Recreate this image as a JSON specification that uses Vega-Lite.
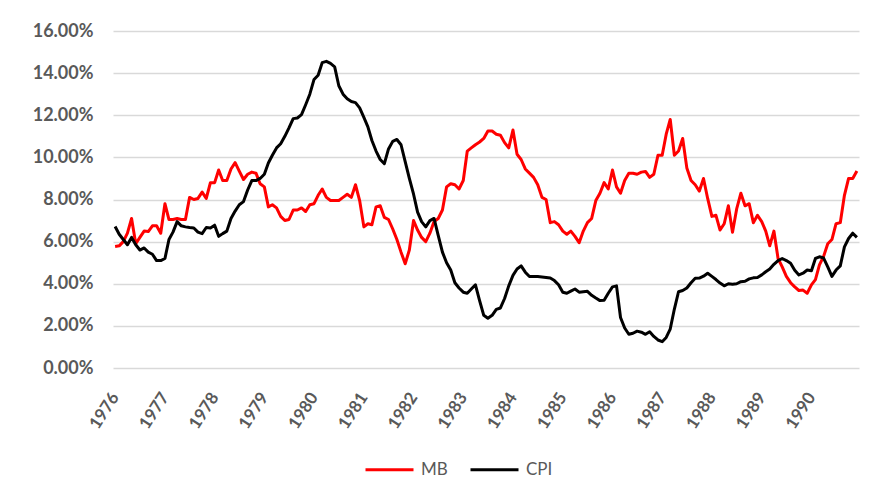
{
  "$schema": "https://vega.github.io/schema/vega-lite/v6.json",
  "width": 746,
  "height": 337,
  "autosize": {"type": "none"},
  "padding": {"left": 113, "top": 31, "right": 28, "bottom": 134},
  "background": "white",
  "config": {
    "view": {"stroke": null},
    "font": "Lato"
  },
  "data": {
    "format": {"parse": {"d": "utc:'%Y-%m'"}},
    "values": [
      {"d":"1976-01","MB":5.77,"CPI":6.72},{"d":"1976-02","MB":5.8,"CPI":6.35},{"d":"1976-03","MB":6.0,"CPI":6.1},{"d":"1976-04","MB":6.4,"CPI":5.85},{"d":"1976-05","MB":7.1,"CPI":6.2},{"d":"1976-06","MB":5.9,"CPI":5.85},{"d":"1976-07","MB":6.2,"CPI":5.6},{"d":"1976-08","MB":6.5,"CPI":5.7},{"d":"1976-09","MB":6.48,"CPI":5.5},{"d":"1976-10","MB":6.75,"CPI":5.4},{"d":"1976-11","MB":6.75,"CPI":5.1},{"d":"1976-12","MB":6.4,"CPI":5.1},
      {"d":"1977-01","MB":7.8,"CPI":5.2},{"d":"1977-02","MB":7.05,"CPI":6.1},{"d":"1977-03","MB":7.05,"CPI":6.45},{"d":"1977-04","MB":7.1,"CPI":6.95},{"d":"1977-05","MB":7.05,"CPI":6.75},{"d":"1977-06","MB":7.05,"CPI":6.7},{"d":"1977-07","MB":8.1,"CPI":6.67},{"d":"1977-08","MB":8.0,"CPI":6.65},{"d":"1977-09","MB":8.05,"CPI":6.45},{"d":"1977-10","MB":8.35,"CPI":6.38},{"d":"1977-11","MB":8.05,"CPI":6.67},{"d":"1977-12","MB":8.8,"CPI":6.65},
      {"d":"1978-01","MB":8.8,"CPI":6.78},{"d":"1978-02","MB":9.4,"CPI":6.25},{"d":"1978-03","MB":8.9,"CPI":6.38},{"d":"1978-04","MB":8.9,"CPI":6.5},{"d":"1978-05","MB":9.45,"CPI":7.1},{"d":"1978-06","MB":9.75,"CPI":7.45},{"d":"1978-07","MB":9.35,"CPI":7.75},{"d":"1978-08","MB":8.95,"CPI":7.9},{"d":"1978-09","MB":9.2,"CPI":8.45},{"d":"1978-10","MB":9.3,"CPI":8.9},{"d":"1978-11","MB":9.25,"CPI":8.9},{"d":"1978-12","MB":8.75,"CPI":9.0},
      {"d":"1979-01","MB":8.6,"CPI":9.2},{"d":"1979-02","MB":7.65,"CPI":9.73},{"d":"1979-03","MB":7.75,"CPI":10.1},{"d":"1979-04","MB":7.6,"CPI":10.45},{"d":"1979-05","MB":7.2,"CPI":10.65},{"d":"1979-06","MB":7.0,"CPI":11.0},{"d":"1979-07","MB":7.05,"CPI":11.4},{"d":"1979-08","MB":7.5,"CPI":11.84},{"d":"1979-09","MB":7.5,"CPI":11.87},{"d":"1979-10","MB":7.6,"CPI":12.03},{"d":"1979-11","MB":7.43,"CPI":12.5},{"d":"1979-12","MB":7.75,"CPI":13.0},
      {"d":"1980-01","MB":7.8,"CPI":13.7},{"d":"1980-02","MB":8.2,"CPI":13.9},{"d":"1980-03","MB":8.5,"CPI":14.5},{"d":"1980-04","MB":8.1,"CPI":14.56},{"d":"1980-05","MB":7.95,"CPI":14.46},{"d":"1980-06","MB":7.95,"CPI":14.3},{"d":"1980-07","MB":7.95,"CPI":13.4},{"d":"1980-08","MB":8.1,"CPI":13.0},{"d":"1980-09","MB":8.25,"CPI":12.78},{"d":"1980-10","MB":8.1,"CPI":12.65},{"d":"1980-11","MB":8.7,"CPI":12.6},{"d":"1980-12","MB":7.95,"CPI":12.35},
      {"d":"1981-01","MB":6.7,"CPI":11.9},{"d":"1981-02","MB":6.85,"CPI":11.45},{"d":"1981-03","MB":6.8,"CPI":10.8},{"d":"1981-04","MB":7.65,"CPI":10.3},{"d":"1981-05","MB":7.7,"CPI":9.9},{"d":"1981-06","MB":7.15,"CPI":9.7},{"d":"1981-07","MB":7.05,"CPI":10.4},{"d":"1981-08","MB":6.6,"CPI":10.76},{"d":"1981-09","MB":6.1,"CPI":10.85},{"d":"1981-10","MB":5.5,"CPI":10.6},{"d":"1981-11","MB":4.95,"CPI":9.8},{"d":"1981-12","MB":5.6,"CPI":9.0},
      {"d":"1982-01","MB":7.0,"CPI":8.25},{"d":"1982-02","MB":6.55,"CPI":7.4},{"d":"1982-03","MB":6.2,"CPI":6.95},{"d":"1982-04","MB":6.0,"CPI":6.7},{"d":"1982-05","MB":6.4,"CPI":7.0},{"d":"1982-06","MB":6.95,"CPI":7.1},{"d":"1982-07","MB":7.1,"CPI":6.3},{"d":"1982-08","MB":7.5,"CPI":5.5},{"d":"1982-09","MB":8.6,"CPI":5.0},{"d":"1982-10","MB":8.75,"CPI":4.65},{"d":"1982-11","MB":8.7,"CPI":4.05},{"d":"1982-12","MB":8.5,"CPI":3.8},
      {"d":"1983-01","MB":8.9,"CPI":3.6},{"d":"1983-02","MB":10.3,"CPI":3.55},{"d":"1983-03","MB":10.45,"CPI":3.75},{"d":"1983-04","MB":10.6,"CPI":3.95},{"d":"1983-05","MB":10.73,"CPI":3.2},{"d":"1983-06","MB":10.9,"CPI":2.5},{"d":"1983-07","MB":11.25,"CPI":2.36},{"d":"1983-08","MB":11.25,"CPI":2.5},{"d":"1983-09","MB":11.1,"CPI":2.78},{"d":"1983-10","MB":11.05,"CPI":2.85},{"d":"1983-11","MB":10.7,"CPI":3.3},{"d":"1983-12","MB":10.45,"CPI":3.9},
      {"d":"1984-01","MB":11.3,"CPI":4.4},{"d":"1984-02","MB":10.15,"CPI":4.7},{"d":"1984-03","MB":9.9,"CPI":4.85},{"d":"1984-04","MB":9.45,"CPI":4.55},{"d":"1984-05","MB":9.25,"CPI":4.34},{"d":"1984-06","MB":9.05,"CPI":4.34},{"d":"1984-07","MB":8.7,"CPI":4.34},{"d":"1984-08","MB":8.1,"CPI":4.32},{"d":"1984-09","MB":8.0,"CPI":4.3},{"d":"1984-10","MB":6.9,"CPI":4.27},{"d":"1984-11","MB":6.95,"CPI":4.15},{"d":"1984-12","MB":6.8,"CPI":3.95},
      {"d":"1985-01","MB":6.5,"CPI":3.6},{"d":"1985-02","MB":6.35,"CPI":3.55},{"d":"1985-03","MB":6.5,"CPI":3.65},{"d":"1985-04","MB":6.25,"CPI":3.75},{"d":"1985-05","MB":5.95,"CPI":3.6},{"d":"1985-06","MB":6.5,"CPI":3.62},{"d":"1985-07","MB":6.9,"CPI":3.64},{"d":"1985-08","MB":7.1,"CPI":3.45},{"d":"1985-09","MB":7.95,"CPI":3.32},{"d":"1985-10","MB":8.3,"CPI":3.2},{"d":"1985-11","MB":8.8,"CPI":3.22},{"d":"1985-12","MB":8.5,"CPI":3.55},
      {"d":"1986-01","MB":9.4,"CPI":3.85},{"d":"1986-02","MB":8.6,"CPI":3.9},{"d":"1986-03","MB":8.3,"CPI":2.4},{"d":"1986-04","MB":8.9,"CPI":1.9},{"d":"1986-05","MB":9.25,"CPI":1.6},{"d":"1986-06","MB":9.25,"CPI":1.65},{"d":"1986-07","MB":9.2,"CPI":1.75},{"d":"1986-08","MB":9.3,"CPI":1.7},{"d":"1986-09","MB":9.33,"CPI":1.6},{"d":"1986-10","MB":9.05,"CPI":1.72},{"d":"1986-11","MB":9.2,"CPI":1.5},{"d":"1986-12","MB":10.1,"CPI":1.33},
      {"d":"1987-01","MB":10.1,"CPI":1.25},{"d":"1987-02","MB":11.1,"CPI":1.45},{"d":"1987-03","MB":11.8,"CPI":1.85},{"d":"1987-04","MB":10.1,"CPI":2.8},{"d":"1987-05","MB":10.3,"CPI":3.62},{"d":"1987-06","MB":10.9,"CPI":3.68},{"d":"1987-07","MB":9.5,"CPI":3.8},{"d":"1987-08","MB":8.9,"CPI":4.05},{"d":"1987-09","MB":8.7,"CPI":4.26},{"d":"1987-10","MB":8.4,"CPI":4.27},{"d":"1987-11","MB":9.0,"CPI":4.36},{"d":"1987-12","MB":8.05,"CPI":4.5},
      {"d":"1988-01","MB":7.2,"CPI":4.35},{"d":"1988-02","MB":7.25,"CPI":4.2},{"d":"1988-03","MB":6.55,"CPI":4.03},{"d":"1988-04","MB":6.85,"CPI":3.9},{"d":"1988-05","MB":7.7,"CPI":4.0},{"d":"1988-06","MB":6.45,"CPI":3.98},{"d":"1988-07","MB":7.55,"CPI":4.0},{"d":"1988-08","MB":8.3,"CPI":4.1},{"d":"1988-09","MB":7.7,"CPI":4.12},{"d":"1988-10","MB":7.8,"CPI":4.23},{"d":"1988-11","MB":6.9,"CPI":4.28},{"d":"1988-12","MB":7.25,"CPI":4.3},
      {"d":"1989-01","MB":6.95,"CPI":4.42},{"d":"1989-02","MB":6.5,"CPI":4.57},{"d":"1989-03","MB":5.8,"CPI":4.7},{"d":"1989-04","MB":6.5,"CPI":4.92},{"d":"1989-05","MB":5.2,"CPI":5.1},{"d":"1989-06","MB":4.8,"CPI":5.2},{"d":"1989-07","MB":4.35,"CPI":5.1},{"d":"1989-08","MB":4.05,"CPI":4.97},{"d":"1989-09","MB":3.85,"CPI":4.64},{"d":"1989-10","MB":3.68,"CPI":4.42},{"d":"1989-11","MB":3.7,"CPI":4.5},{"d":"1989-12","MB":3.55,"CPI":4.65},
      {"d":"1990-01","MB":3.95,"CPI":4.62},{"d":"1990-02","MB":4.2,"CPI":5.2},{"d":"1990-03","MB":4.9,"CPI":5.28},{"d":"1990-04","MB":5.3,"CPI":5.22},{"d":"1990-05","MB":5.9,"CPI":4.8},{"d":"1990-06","MB":6.1,"CPI":4.35},{"d":"1990-07","MB":6.85,"CPI":4.65},{"d":"1990-08","MB":6.9,"CPI":4.85},{"d":"1990-09","MB":8.2,"CPI":5.75},{"d":"1990-10","MB":9.0,"CPI":6.15},{"d":"1990-11","MB":9.0,"CPI":6.4},{"d":"1990-12","MB":9.35,"CPI":6.2}
    ]
  },
  "transform": [
    {"fold": ["MB", "CPI"], "as": ["series", "rate"]}
  ],
  "mark": {"type": "line", "strokeWidth": 3, "strokeJoin": "round"},
  "encoding": {
    "x": {
      "field": "d",
      "timeUnit": "utcyearmonth",
      "type": "temporal",
      "bandPosition": 0.5,
      "title": null,
      "scale": {
        "domain": [
          {"year": 1976, "month": 1, "date": 1, "utc": true},
          {"year": 1991, "month": 1, "date": 1, "utc": true}
        ]
      },
      "axis": {
        "values": [
          {"year": 1976, "month": 1, "date": 16, "utc": true},
          {"year": 1977, "month": 1, "date": 16, "utc": true},
          {"year": 1978, "month": 1, "date": 16, "utc": true},
          {"year": 1979, "month": 1, "date": 16, "utc": true},
          {"year": 1980, "month": 1, "date": 16, "utc": true},
          {"year": 1981, "month": 1, "date": 16, "utc": true},
          {"year": 1982, "month": 1, "date": 16, "utc": true},
          {"year": 1983, "month": 1, "date": 16, "utc": true},
          {"year": 1984, "month": 1, "date": 16, "utc": true},
          {"year": 1985, "month": 1, "date": 16, "utc": true},
          {"year": 1986, "month": 1, "date": 16, "utc": true},
          {"year": 1987, "month": 1, "date": 16, "utc": true},
          {"year": 1988, "month": 1, "date": 16, "utc": true},
          {"year": 1989, "month": 1, "date": 16, "utc": true},
          {"year": 1990, "month": 1, "date": 16, "utc": true}
        ],
        "format": "%Y",
        "grid": false,
        "domain": false,
        "ticks": false,
        "labelAngle": -57,
        "labelAlign": "right",
        "labelBaseline": "middle",
        "labelPadding": 26,
        "labelFont": "Lato",
        "labelFontSize": 17,
        "labelFontWeight": "bold",
        "labelColor": "#595959",
        "labelOverlap": false,
        "labelFlush": false
      }
    },
    "y": {
      "field": "rate",
      "type": "quantitative",
      "title": null,
      "scale": {"domain": [0, 16], "nice": false, "zero": true},
      "axis": {
        "values": [0, 2, 4, 6, 8, 10, 12, 14, 16],
        "labelExpr": "format(datum.value, '.2f') + '%'",
        "grid": true,
        "gridColor": "#d9d9d9",
        "gridWidth": 1.5,
        "domain": false,
        "ticks": false,
        "labelPadding": 20,
        "labelFont": "Lato",
        "labelFontSize": 18,
        "labelFontWeight": "bold",
        "labelColor": "#595959"
      }
    },
    "color": {
      "field": "series",
      "type": "nominal",
      "sort": ["MB", "CPI"],
      "scale": {"domain": ["MB", "CPI"], "range": ["#ff0000", "#000000"]},
      "legend": {
        "title": null,
        "orient": "none",
        "direction": "horizontal",
        "legendX": 251,
        "legendY": 413,
        "symbolType": "stroke",
        "symbolSize": 2304,
        "symbolStrokeWidth": 3,
        "labelFont": "Lato",
        "labelFontSize": 17,
        "labelColor": "#595959",
        "labelOffset": 6,
        "columnPadding": 16
      }
    }
  }
}
